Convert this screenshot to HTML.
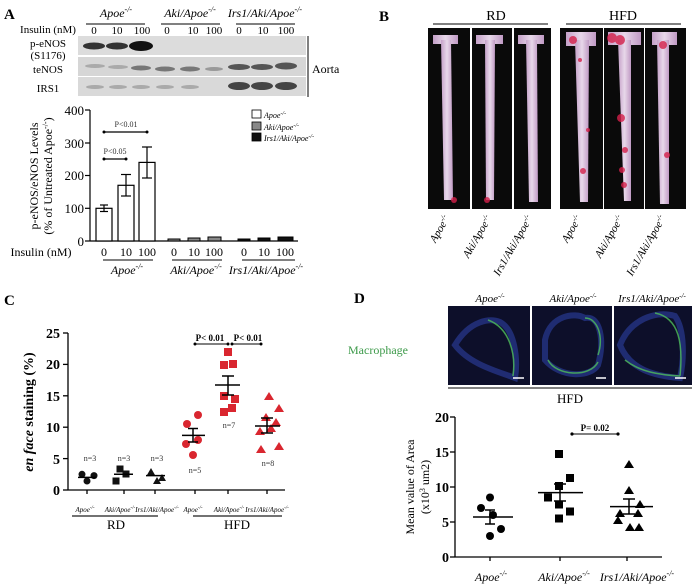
<!DOCTYPE html><html><head><meta charset="utf-8"><style>body{margin:0;background:#fff}svg{display:block}text{font-family:"Liberation Serif",serif}</style></head><body>
<svg width="700" height="585" viewBox="0 0 700 585" xmlns="http://www.w3.org/2000/svg">
<defs>
<linearGradient id="ao" x1="0" x2="1"><stop offset="0" stop-color="#c4a0c8"/><stop offset=".5" stop-color="#e8d8ea"/><stop offset="1" stop-color="#c09ac4"/></linearGradient>
</defs>
<!-- Panel A -->
<text x="4" y="19" font-family="Liberation Sans" font-weight="bold" font-size="15">A</text>
<g font-style="italic" font-size="12" text-anchor="middle">
<text x="116" y="17">Apoe<tspan font-size="8" dy="-5">-/-</tspan></text>
<text x="190" y="17">Aki/Apoe<tspan font-size="8" dy="-5">-/-</tspan></text>
<text x="265" y="17">Irs1/Aki/Apoe<tspan font-size="8" dy="-5">-/-</tspan></text>
</g>
<g stroke="#000" stroke-width="1"><line x1="86" y1="24" x2="145" y2="24"/><line x1="161" y1="24" x2="220" y2="24"/><line x1="236" y1="24" x2="295" y2="24"/></g>
<g font-size="11" text-anchor="middle">
<text x="48" y="33">Insulin (nM)</text>
<text x="94" y="34">0</text><text x="117" y="34">10</text><text x="142" y="34">100</text>
<text x="167" y="34">0</text><text x="193" y="34">10</text><text x="214" y="34">100</text>
<text x="239" y="34">0</text><text x="263" y="34">10</text><text x="286" y="34">100</text>
<text x="48" y="47">p-eNOS</text><text x="48" y="59">(S1176)</text><text x="48" y="73">teNOS</text><text x="48" y="92">IRS1</text>
</g>
<rect x="78" y="36" width="228" height="19" fill="#dcdcdc"/>
<rect x="78" y="57" width="228" height="19" fill="#d6d6d6"/>
<rect x="78" y="77" width="228" height="19" fill="#d9d9d9"/>
<g fill="#333"><ellipse cx="94" cy="46" rx="11" ry="3.5"/><ellipse cx="117" cy="46" rx="11" ry="3.5"/><ellipse cx="141" cy="46" rx="12" ry="5" fill="#111"/></g>
<g fill="#777"><ellipse cx="95" cy="66" rx="10" ry="2" fill="#aaa"/><ellipse cx="118" cy="67" rx="10" ry="2" fill="#aaa"/><ellipse cx="141" cy="68" rx="10" ry="2.5"/><ellipse cx="165" cy="69" rx="10" ry="2.5"/><ellipse cx="190" cy="69" rx="10" ry="2.5"/><ellipse cx="214" cy="69" rx="9" ry="2" fill="#999"/><ellipse cx="239" cy="67" rx="11" ry="3" fill="#555"/><ellipse cx="262" cy="67" rx="11" ry="3" fill="#555"/><ellipse cx="286" cy="66" rx="11" ry="3.5" fill="#555"/></g>
<g fill="#aaa"><ellipse cx="95" cy="87" rx="9" ry="2"/><ellipse cx="118" cy="87" rx="9" ry="2"/><ellipse cx="141" cy="87" rx="9" ry="2"/><ellipse cx="165" cy="87" rx="9" ry="2"/><ellipse cx="190" cy="87" rx="9" ry="2"/><ellipse cx="239" cy="86" rx="11" ry="4" fill="#444"/><ellipse cx="262" cy="86" rx="11" ry="4" fill="#444"/><ellipse cx="286" cy="86" rx="11" ry="4" fill="#444"/></g>
<line x1="308" y1="36" x2="308" y2="97" stroke="#000"/>
<text x="312" y="73" font-size="12">Aorta</text>
<!-- A chart -->
<g stroke="#000" stroke-width="1.2" fill="none">
<line x1="90" y1="110" x2="90" y2="241"/><line x1="90" y1="241" x2="298" y2="241"/>
<line x1="85" y1="110" x2="90" y2="110"/><line x1="85" y1="143" x2="90" y2="143"/><line x1="85" y1="175.5" x2="90" y2="175.5"/><line x1="85" y1="208.3" x2="90" y2="208.3"/><line x1="85" y1="241" x2="90" y2="241"/>
</g>
<g font-size="13" text-anchor="end"><text x="84" y="115">400</text><text x="84" y="148">300</text><text x="84" y="180">200</text><text x="84" y="213">100</text><text x="84" y="246">0</text></g>
<text transform="translate(38,176) rotate(-90)" font-size="12" text-anchor="middle">p-eNOS/eNOS Levels</text>
<text transform="translate(52,176) rotate(-90)" font-size="12" text-anchor="middle">(% of Untreated Apoe<tspan font-size="8" dy="-4">-/-</tspan><tspan dy="4">)</tspan></text>
<g stroke="#000" stroke-width="1.2" fill="#fff">
<rect x="96" y="208.3" width="16" height="32.7"/><rect x="118" y="185.3" width="16" height="55.7"/><rect x="139" y="162.4" width="16" height="78.6"/>
</g>
<g stroke="#000" stroke-width="1.2">
<line x1="104" y1="205" x2="104" y2="211.5"/><line x1="100" y1="205" x2="108" y2="205"/><line x1="100" y1="211.5" x2="108" y2="211.5"/>
<line x1="126" y1="174.5" x2="126" y2="196"/><line x1="121" y1="174.5" x2="131" y2="174.5"/><line x1="121" y1="196" x2="131" y2="196"/>
<line x1="147" y1="147" x2="147" y2="178"/><line x1="142" y1="147" x2="152" y2="147"/><line x1="142" y1="178" x2="152" y2="178"/>
<line x1="104" y1="159" x2="126" y2="159"/><line x1="104" y1="132" x2="147" y2="132"/>
</g>
<g fill="#000"><circle cx="104" cy="159" r="1.5"/><circle cx="126" cy="159" r="1.5"/><circle cx="104" cy="132" r="1.5"/><circle cx="147" cy="132" r="1.5"/></g>
<g font-size="8" text-anchor="middle" fill="#333"><text x="115" y="154">P&lt;0.05</text><text x="126" y="127">P&lt;0.01</text></g>
<g stroke="#000" stroke-width="1">
<rect x="168" y="239" width="12" height="2" fill="#888"/><rect x="188" y="238" width="12" height="3" fill="#888"/><rect x="208" y="237" width="13" height="4" fill="#888"/>
<rect x="238" y="239" width="12" height="2" fill="#111"/><rect x="258" y="238" width="12" height="3" fill="#111"/><rect x="278" y="237" width="15" height="4" fill="#111"/>
</g>
<g stroke="#000" stroke-width="0.8"><rect x="252" y="110" width="9" height="8" fill="#fff"/><rect x="252" y="122" width="9" height="8" fill="#888"/><rect x="252" y="133" width="9" height="8" fill="#111"/></g>
<g font-size="8" font-style="italic"><text x="264" y="118">Apoe<tspan font-size="6" dy="-3">-/-</tspan></text><text x="264" y="130">Aki/Apoe<tspan font-size="6" dy="-3">-/-</tspan></text><text x="264" y="141">Irs1/Aki/Apoe<tspan font-size="6" dy="-3">-/-</tspan></text></g>
<g font-size="12" text-anchor="middle">
<text x="41" y="256">Insulin (nM)</text>
<text x="104" y="256">0</text><text x="126" y="256">10</text><text x="147" y="256">100</text>
<text x="174" y="256">0</text><text x="194" y="256">10</text><text x="214" y="256">100</text>
<text x="244" y="256">0</text><text x="264" y="256">10</text><text x="285" y="256">100</text>
</g>
<g stroke="#000"><line x1="103" y1="260" x2="153" y2="260"/><line x1="172" y1="260" x2="222" y2="260"/><line x1="242" y1="260" x2="295" y2="260"/></g>
<g font-size="12" font-style="italic" text-anchor="middle"><text x="127" y="274">Apoe<tspan font-size="8" dy="-5">-/-</tspan></text><text x="196" y="274">Aki/Apoe<tspan font-size="8" dy="-5">-/-</tspan></text><text x="266" y="274">Irs1/Aki/Apoe<tspan font-size="8" dy="-5">-/-</tspan></text></g>
<!-- Panel B -->
<text x="379" y="21" font-family="Liberation Sans" font-weight="bold" font-size="15">B</text>
<g font-size="14" text-anchor="middle"><text x="496" y="20">RD</text><text x="623" y="20">HFD</text></g>
<g stroke="#000"><line x1="433" y1="24" x2="548" y2="24"/><line x1="566" y1="24" x2="681" y2="24"/></g>
<g fill="#0a0a0a"><rect x="428" y="28" width="42" height="181"/><rect x="472" y="28" width="40" height="181"/><rect x="514" y="28" width="37" height="181"/><rect x="560" y="28" width="43" height="181"/><rect x="604" y="28" width="40" height="181"/><rect x="645" y="28" width="41" height="181"/></g>
<g fill="url(#ao)">
<rect x="433" y="35" width="25" height="9"/><path d="M441 40 h10 l2 160 h-9z"/>
<rect x="476" y="35" width="27" height="9"/><path d="M485 40 h10 l-1 160 h-8z"/>
<rect x="518" y="35" width="26" height="9"/><path d="M526 40 h11 l1 162 h-9z"/>
<rect x="566" y="32" width="30" height="14"/><path d="M575 40 h14 l-1 162 h-8z"/>
<rect x="608" y="32" width="33" height="13"/><path d="M618 40 h13 l0 161 h-7z"/>
<rect x="652" y="32" width="25" height="13"/><path d="M657 40 h12 v164 h-9z"/>
</g>
<g fill="#d4204a" opacity=".8"><circle cx="454" cy="200" r="3"/><circle cx="487" cy="200" r="3"/><circle cx="573" cy="40" r="4"/><circle cx="612" cy="38" r="5"/><circle cx="620" cy="40" r="5"/><circle cx="621" cy="118" r="4"/><circle cx="625" cy="150" r="3"/><circle cx="622" cy="170" r="3"/><circle cx="624" cy="185" r="3"/><circle cx="663" cy="45" r="4"/><circle cx="667" cy="155" r="3"/><circle cx="583" cy="171" r="3"/><circle cx="588" cy="130" r="2"/><circle cx="580" cy="60" r="2"/></g>
<g font-size="11" font-style="italic" text-anchor="end">
<text transform="translate(450,218) rotate(-60)">Apoe<tspan font-size="7" dy="-4">-/-</tspan></text>
<text transform="translate(492,218) rotate(-60)">Aki/Apoe<tspan font-size="7" dy="-4">-/-</tspan></text>
<text transform="translate(533,218) rotate(-60)">Irs1/Aki/Apoe<tspan font-size="7" dy="-4">-/-</tspan></text>
<text transform="translate(582,218) rotate(-60)">Apoe<tspan font-size="7" dy="-4">-/-</tspan></text>
<text transform="translate(624,218) rotate(-60)">Aki/Apoe<tspan font-size="7" dy="-4">-/-</tspan></text>
<text transform="translate(666,218) rotate(-60)">Irs1/Aki/Apoe<tspan font-size="7" dy="-4">-/-</tspan></text>
</g>
<!-- Panel C -->
<text x="4" y="305" font-family="Liberation Sans" font-weight="bold" font-size="15">C</text>
<g stroke="#000" stroke-width="1.3"><line x1="68" y1="333" x2="68" y2="490"/><line x1="68" y1="490" x2="285" y2="490"/>
<line x1="63" y1="333" x2="68" y2="333"/><line x1="63" y1="364.4" x2="68" y2="364.4"/><line x1="63" y1="395.8" x2="68" y2="395.8"/><line x1="63" y1="427.2" x2="68" y2="427.2"/><line x1="63" y1="458.6" x2="68" y2="458.6"/><line x1="63" y1="490" x2="68" y2="490"/>
<line x1="87" y1="490" x2="87" y2="494"/><line x1="124" y1="490" x2="124" y2="494"/><line x1="155" y1="490" x2="155" y2="494"/><line x1="195" y1="490" x2="195" y2="494"/><line x1="228" y1="490" x2="228" y2="494"/><line x1="267" y1="490" x2="267" y2="494"/></g>
<g font-size="14" font-weight="bold" text-anchor="end"><text x="60" y="338">25</text><text x="60" y="369">20</text><text x="60" y="401">15</text><text x="60" y="432">10</text><text x="60" y="464">5</text><text x="60" y="495">0</text></g>
<text transform="translate(33,412) rotate(-90)" font-size="14" font-weight="bold" text-anchor="middle"><tspan font-style="italic">en face</tspan> staining (%)</text>
<g fill="#111"><circle cx="82" cy="474.3" r="3.5"/><circle cx="94" cy="475.6" r="3.5"/><circle cx="87" cy="481" r="3.5"/>
<rect x="116.5" y="465.5" width="7" height="7"/><rect x="122.5" y="470.5" width="7" height="7"/><rect x="112.5" y="477.5" width="7" height="7"/>
<path d="M151 468 l4 7 h-8z M162 474 l4 7 h-8z M157 477 l4 7 h-8z"/></g>
<g fill="#d9262f"><circle cx="198" cy="415" r="4"/><circle cx="187" cy="424" r="4"/><circle cx="198" cy="440" r="4"/><circle cx="186" cy="444" r="4"/><circle cx="193" cy="455" r="4"/>
<rect x="224" y="348" width="8" height="8"/><rect x="220" y="361" width="8" height="8"/><rect x="229" y="360" width="8" height="8"/><rect x="231" y="395" width="8" height="8"/><rect x="220" y="392" width="8" height="8"/><rect x="228" y="404" width="8" height="8"/><rect x="220" y="408" width="8" height="8"/>
<path d="M269 392 l5 8 h-10z M266 413 l5 8 h-10z M279 404 l5 8 h-10z M276 418 l5 8 h-10z M271 424 l5 8 h-10z M260 427 l5 8 h-10z M279 442 l5 8 h-10z M261 445 l5 8 h-10z"/></g>
<g stroke="#000" stroke-width="1.5">
<line x1="78" y1="477.4" x2="96" y2="477.4"/><line x1="114" y1="474.3" x2="133" y2="474.3"/><line x1="146" y1="475.6" x2="165" y2="475.6"/>
<line x1="182" y1="435.4" x2="205" y2="435.4"/><line x1="193" y1="428.5" x2="193" y2="442"/><line x1="188" y1="428.5" x2="198" y2="428.5"/><line x1="188" y1="442" x2="198" y2="442"/>
<line x1="215" y1="385" x2="240" y2="385"/><line x1="228" y1="376" x2="228" y2="395"/><line x1="222" y1="376" x2="234" y2="376"/><line x1="222" y1="395" x2="234" y2="395"/>
<line x1="255" y1="426" x2="280" y2="426"/><line x1="267" y1="418" x2="267" y2="433"/><line x1="261" y1="418" x2="273" y2="418"/><line x1="261" y1="433" x2="273" y2="433"/>
<line x1="195" y1="344" x2="228" y2="344" stroke-width="1"/><line x1="232" y1="344" x2="261" y2="344" stroke-width="1"/></g>
<g fill="#000"><circle cx="195" cy="344" r="1.5"/><circle cx="228" cy="344" r="1.5"/><circle cx="232" cy="344" r="1.5"/><circle cx="261" cy="344" r="1.5"/></g>
<g font-size="9" font-weight="bold" text-anchor="middle"><text x="210" y="341">P&lt; 0.01</text><text x="248" y="341">P&lt; 0.01</text></g>
<g font-size="8" text-anchor="middle" fill="#333"><text x="90" y="461">n=3</text><text x="124" y="461">n=3</text><text x="157" y="461">n=3</text><text x="195" y="473">n=5</text><text x="229" y="428">n=7</text><text x="268" y="466">n=8</text></g>
<g font-size="7" font-style="italic" text-anchor="middle"><text x="85" y="512">Apoe<tspan font-size="5" dy="-3">-/-</tspan></text><text x="120" y="512">Aki/Apoe<tspan font-size="5" dy="-3">-/-</tspan></text><text x="157" y="512">Irs1/Aki/Apoe<tspan font-size="5" dy="-3">-/-</tspan></text><text x="193" y="512">Apoe<tspan font-size="5" dy="-3">-/-</tspan></text><text x="229" y="512">Aki/Apoe<tspan font-size="5" dy="-3">-/-</tspan></text><text x="267" y="512">Irs1/Aki/Apoe<tspan font-size="5" dy="-3">-/-</tspan></text></g>
<g stroke="#444" stroke-width="1.5"><line x1="72" y1="516" x2="158" y2="516"/><line x1="193" y1="516" x2="282" y2="516"/></g>
<g font-size="13" text-anchor="middle"><text x="116" y="529">RD</text><text x="237" y="529">HFD</text></g>
<!-- Panel D -->
<text x="354" y="303" font-family="Liberation Sans" font-weight="bold" font-size="15">D</text>
<g font-size="11" font-style="italic" text-anchor="middle"><text x="490" y="302">Apoe<tspan font-size="7" dy="-4">-/-</tspan></text><text x="573" y="302">Aki/Apoe<tspan font-size="7" dy="-4">-/-</tspan></text><text x="652" y="302">Irs1/Aki/Apoe<tspan font-size="7" dy="-4">-/-</tspan></text></g>
<text x="378" y="354" font-size="12" fill="#3d9a4a" text-anchor="middle">Macrophage</text>
<g fill="#0d0f2a"><rect x="448" y="306" width="82" height="79"/><rect x="532" y="306" width="80" height="79"/><rect x="614" y="306" width="78" height="79"/></g>
<g fill="none" stroke-width="6" stroke="#22307a" opacity=".9">
<path d="M455 345 C470 320 490 318 500 322 C515 330 518 360 515 378 C500 372 470 365 455 345z"/>
<path d="M545 340 C550 315 575 312 585 318 C600 315 605 340 598 365 C590 378 560 378 545 360z"/>
<path d="M620 345 C630 320 655 310 675 316 C685 330 684 360 680 378 C655 376 630 370 620 345z"/>
</g>
<g fill="none" stroke-width="1.5" stroke="#4fbf5a" opacity=".8">
<path d="M488 320 C510 328 516 355 513 376"/><path d="M548 360 C556 376 590 378 598 362 M585 318 C598 318 604 338 598 355"/><path d="M655 313 C680 318 683 345 680 376 M625 360 C640 372 660 375 680 376"/>
</g>
<g stroke="#fff" stroke-width="1.5"><line x1="513" y1="378" x2="524" y2="378"/><line x1="596" y1="378" x2="606" y2="378"/><line x1="675" y1="378" x2="686" y2="378"/></g>
<line x1="448" y1="388" x2="692" y2="388" stroke="#000"/>
<text x="570" y="403" font-size="13" text-anchor="middle">HFD</text>
<g stroke="#000" stroke-width="1.3"><line x1="455" y1="417" x2="455" y2="557"/><line x1="455" y1="557" x2="662" y2="557"/>
<line x1="450" y1="417" x2="455" y2="417"/><line x1="450" y1="452" x2="455" y2="452"/><line x1="450" y1="487" x2="455" y2="487"/><line x1="450" y1="522" x2="455" y2="522"/><line x1="450" y1="557" x2="455" y2="557"/>
<line x1="490" y1="557" x2="490" y2="561"/><line x1="560" y1="557" x2="560" y2="561"/><line x1="627" y1="557" x2="627" y2="561"/></g>
<g font-size="14" font-weight="bold" text-anchor="end"><text x="449" y="422">20</text><text x="449" y="457">15</text><text x="449" y="492">10</text><text x="449" y="527">5</text><text x="449" y="562">0</text></g>
<text transform="translate(414,487) rotate(-90)" font-size="12" text-anchor="middle">Mean value of Area</text>
<text transform="translate(429,487) rotate(-90)" font-size="12" text-anchor="middle">(x10<tspan font-size="8" dy="-4">3</tspan><tspan dy="4"> um2)</tspan></text>
<g fill="#000"><circle cx="490" cy="497.5" r="4"/><circle cx="481" cy="508" r="4"/><circle cx="493" cy="515" r="4"/><circle cx="501" cy="529" r="4"/><circle cx="490" cy="536" r="4"/>
<rect x="555" y="450" width="8" height="8"/><rect x="566" y="474" width="8" height="8"/><rect x="555" y="482" width="8" height="8"/><rect x="544" y="493.5" width="8" height="8"/><rect x="555" y="500.5" width="8" height="8"/><rect x="566" y="507.5" width="8" height="8"/><rect x="555" y="514.5" width="8" height="8"/>
<path d="M629 460 l5 8 h-10z M629 486 l5 8 h-10z M640 500 l5 8 h-10z M638 509 l5 8 h-10z M620 509 l5 8 h-10z M618 516 l5 8 h-10z M630 523 l5 8 h-10z M639 523 l5 8 h-10z"/></g>
<g stroke="#000" stroke-width="1.5">
<line x1="473" y1="517" x2="513" y2="517"/><line x1="490" y1="510" x2="490" y2="524"/><line x1="485" y1="510" x2="495" y2="510"/><line x1="485" y1="524" x2="495" y2="524"/>
<line x1="538" y1="492.6" x2="583" y2="492.6"/><line x1="560" y1="484" x2="560" y2="501"/><line x1="554" y1="484" x2="566" y2="484"/><line x1="554" y1="501" x2="566" y2="501"/>
<line x1="610" y1="506.6" x2="653" y2="506.6"/><line x1="629" y1="499" x2="629" y2="514"/><line x1="623" y1="499" x2="635" y2="499"/><line x1="623" y1="514" x2="635" y2="514"/>
<line x1="572" y1="434" x2="618" y2="434" stroke-width="1"/></g>
<g fill="#000"><circle cx="572" cy="434" r="1.6"/><circle cx="618" cy="434" r="1.6"/></g>
<text x="595" y="431" font-size="9" font-weight="bold" text-anchor="middle">P= 0.02</text>
<g font-size="12" font-style="italic" text-anchor="middle"><text x="491" y="581">Apoe<tspan font-size="8" dy="-5">-/-</tspan></text><text x="564" y="581">Aki/Apoe<tspan font-size="8" dy="-5">-/-</tspan></text><text x="637" y="581">Irs1/Aki/Apoe<tspan font-size="8" dy="-5">-/-</tspan></text></g>
</svg>
</body></html>
